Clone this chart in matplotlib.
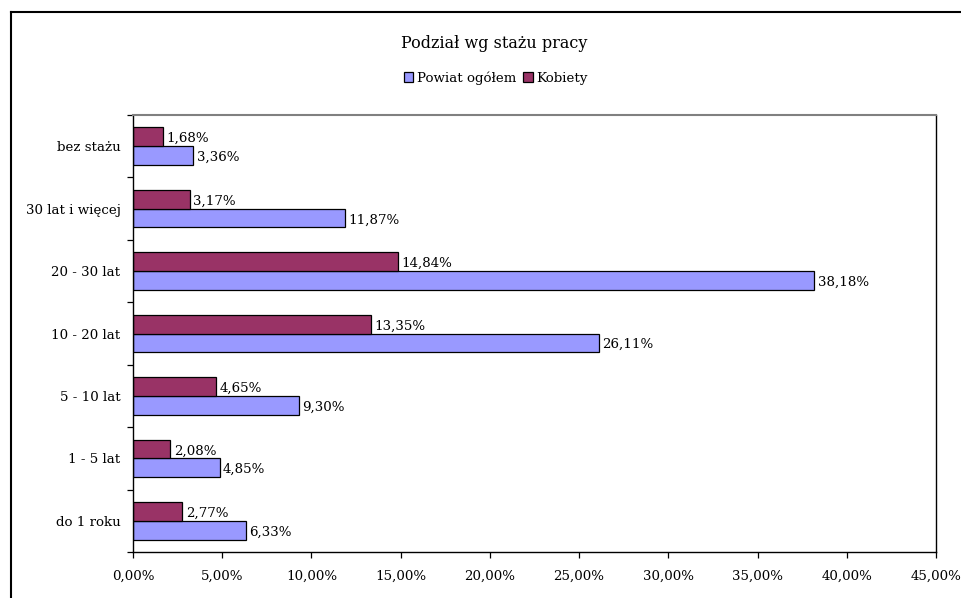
import matplotlib
matplotlib.use("Agg")
import matplotlib.pyplot as plt
from matplotlib.lines import Line2D
import numpy as np

plt.rcParams['font.family'] = ['DejaVu Serif']

categories = ["do 1 roku", "1 - 5 lat", "5 - 10 lat", "10 - 20 lat", "20 - 30 lat",
              "30 lat i więcej", "bez stażu"]
powiat = [6.33, 4.85, 9.30, 26.11, 38.18, 11.87, 3.36]
kobiety = [2.77, 2.08, 4.65, 13.35, 14.84, 3.17, 1.68]
xticks = [0, 5, 10, 15, 20, 25, 30, 35, 40, 45]

W, H = 962, 598
fig = plt.figure(figsize=(W / 100, H / 100), dpi=100)
ax = fig.add_axes([133 / W, 1 - 552 / H, (936 - 133) / W, (552 - 115) / H])

y = np.arange(len(categories))
bh = 0.3
ax.barh(y - bh / 2, powiat, height=bh, color="#9999FF", edgecolor="black",
        linewidth=0.9, label="Powiat ogółem")
ax.barh(y + bh / 2, kobiety, height=bh, color="#993366", edgecolor="black",
        linewidth=0.9, label="Kobiety")

fs = 9.6
for yi, v in zip(y, powiat):
    ax.text(v + 0.2, yi - bh / 2 - 0.03, f"{v:.2f}%".replace(".", ","),
            va="center", ha="left", fontsize=fs)
for yi, v in zip(y, kobiety):
    ax.text(v + 0.2, yi + bh / 2 - 0.03, f"{v:.2f}%".replace(".", ","),
            va="center", ha="left", fontsize=fs)

ax.set_xlim(0, 45)
ax.set_ylim(-0.5, len(categories) - 0.5)
ax.set_xticks(xticks)
ax.set_xticklabels([f"{t:.2f}%".replace(".", ",") for t in xticks], fontsize=fs)
ax.set_yticks(y)
ax.set_yticklabels(categories, fontsize=fs)
ax.set_yticks(np.arange(-0.5, len(categories), 1.0), minor=True)
ax.tick_params(axis="y", which="major", length=0, pad=9)
ax.tick_params(axis="y", which="minor", length=4, direction="out", width=0.9)
ax.tick_params(axis="x", which="major", length=4, direction="out", width=0.9, pad=9)

for s in ["left", "bottom", "right"]:
    ax.spines[s].set_color("black")
    ax.spines[s].set_linewidth(1.0)
ax.spines["top"].set_color("#808080")
ax.spines["top"].set_linewidth(1.5)

fig.text(494 / W, 1 - 44 / H, "Podział wg stażu pracy", ha="center", va="center",
         fontsize=11.5)
fig.legend(loc="center", bbox_to_anchor=(496 / W, 1 - 78 / H), ncol=2, frameon=False,
           fontsize=fs, handlelength=0.7, handleheight=0.7, handletextpad=0.3,
           columnspacing=0.5)

# outer chart frame
fig.add_artist(Line2D([11 / W, 11 / W], [0, 1 - 12 / H], transform=fig.transFigure,
                      color="black", linewidth=1.5))
fig.add_artist(Line2D([11 / W, 1], [1 - 12 / H, 1 - 12 / H], transform=fig.transFigure,
                      color="black", linewidth=1.5))

fig.savefig("out.png", dpi=100)
